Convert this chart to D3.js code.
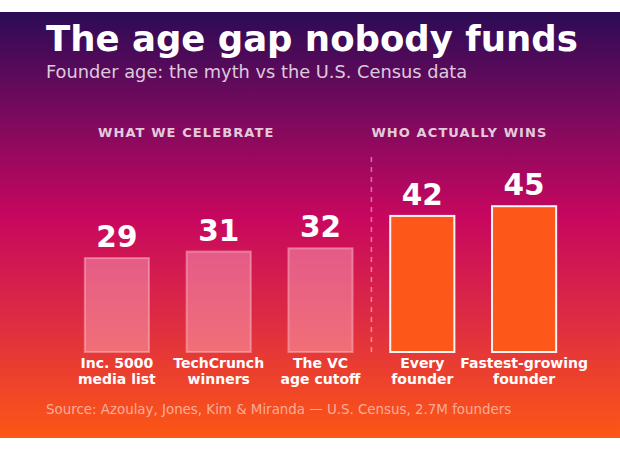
<!DOCTYPE html>
<html>
<head>
<meta charset="utf-8">
<script src="https://cdn.jsdelivr.net/npm/d3@7"></script>
<style>
  html, body { margin: 0; padding: 0; background: #fff; }
  svg { display: block; font-family: "DejaVu Sans", sans-serif; }
</style>
</head>
<body>
<svg id="chart" width="620" height="450"></svg>
<script>
// data
const categories = ["Inc. 5000|media list", "TechCrunch|winners", "The VC|age cutoff", "Every|founder", "Fastest-growing|founder"]
const ages = [29, 31, 32, 42, 45]
const groups = ["myth", "myth", "myth", "real", "real"]
const groupLabels = ["WHAT WE CELEBRATE", "WHO ACTUALLY WINS"]

const W = 620, H = 450
const svg = d3.select('#chart')

// background gradient
const defs = svg.append('defs')
const grad = defs.append('linearGradient').attr('id', 'bg')
  .attr('x1', 0).attr('y1', 0).attr('x2', 0).attr('y2', 1)
grad.append('stop').attr('offset', '0%').attr('stop-color', '#2b0b55')
grad.append('stop').attr('offset', '22%').attr('stop-color', '#730a5d')
grad.append('stop').attr('offset', '48%').attr('stop-color', '#c7075f')
grad.append('stop').attr('offset', '75%').attr('stop-color', '#e0303f')
grad.append('stop').attr('offset', '100%').attr('stop-color', '#fd5714')

svg.append('rect').attr('x', 0).attr('y', 12).attr('width', W).attr('height', 426)
  .attr('fill', 'url(#bg)')

// title
svg.append('text').attr('x', 46).attr('y', 51)
  .attr('font-size', 35.5).attr('font-weight', 'bold').attr('fill', '#fff')
  .text('The age gap nobody funds')
svg.append('text').attr('x', 46).attr('y', 78)
  .attr('font-size', 17.8).attr('fill', '#fff').attr('fill-opacity', 0.8)
  .text('Founder age: the myth vs the U.S. Census data')

// scales
const x = d3.scaleBand().domain(d3.range(ages.length)).range([66, 575])
  .paddingInner(0.37).paddingOuter(0.185)
const y = d3.scaleLinear().domain([0, 50]).range([352, 190])

// group headers
const dividerX = (x(2) + x.bandwidth() + x(3)) / 2
svg.selectAll('.grp').data(groupLabels).enter().append('text')
  .attr('x', (d, i) => i == 0 ? 98 : dividerX)
  .attr('y', 137)
  .attr('font-size', 13).attr('font-weight', 'bold')
  .attr('letter-spacing', 1.1)
  .attr('fill', '#fff').attr('fill-opacity', 0.8)
  .text(d => d)

// dashed divider
svg.append('line')
  .attr('x1', dividerX).attr('x2', dividerX)
  .attr('y1', 157).attr('y2', y(0))
  .attr('stroke', '#fff').attr('stroke-opacity', 0.45)
  .attr('stroke-width', 1.5).attr('stroke-dasharray', '5,5')

// bars
svg.selectAll('.bar').data(ages).enter().append('rect')
  .attr('x', (d, i) => x(i))
  .attr('y', d => y(d))
  .attr('width', x.bandwidth())
  .attr('height', d => y(0) - y(d))
  .attr('fill', (d, i) => groups[i] == 'real' ? '#fd5719' : '#ffb3c6')
  .attr('fill-opacity', (d, i) => groups[i] == 'real' ? 1 : 0.45)
  .attr('stroke', (d, i) => groups[i] == 'real' ? '#fff' : '#ffc6d4')
  .attr('stroke-opacity', (d, i) => groups[i] == 'real' ? 0.95 : 0.45)
  .attr('stroke-width', 2)

// value labels
svg.selectAll('.val').data(ages).enter().append('text')
  .attr('x', (d, i) => x(i) + x.bandwidth() / 2)
  .attr('y', d => y(d) - 11)
  .attr('text-anchor', 'middle')
  .attr('font-size', 29.5).attr('font-weight', 'bold').attr('fill', '#fff')
  .text(d => d)

// category labels (two lines)
const cat = svg.selectAll('.cat').data(categories).enter().append('text')
  .attr('text-anchor', 'middle')
  .attr('font-size', 14).attr('font-weight', 'bold').attr('fill', '#fff')
cat.each(function(d, i) {
  const cx = x(i) + x.bandwidth() / 2
  d.split('|').forEach((line, j) => {
    d3.select(this).append('tspan').attr('x', cx).attr('y', 368 + j * 16).text(line)
  })
})

// source
svg.append('text').attr('x', 46).attr('y', 414)
  .attr('font-size', 13.4).attr('fill', '#fff').attr('fill-opacity', 0.55)
  .text('Source: Azoulay, Jones, Kim & Miranda \u2014 U.S. Census, 2.7M founders')
</script>
</body>
</html>
